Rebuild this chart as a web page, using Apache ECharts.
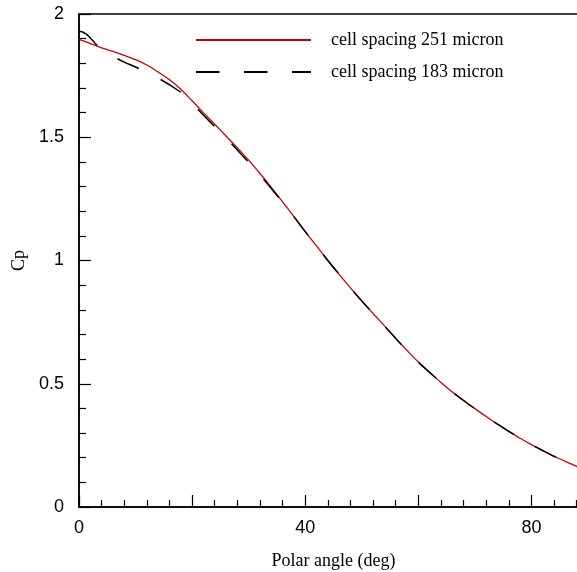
<!DOCTYPE html>
<html>
<head>
<meta charset="utf-8">
<script src="https://cdn.jsdelivr.net/npm/echarts@6/dist/echarts.min.js"></script>
<style>
html,body{margin:0;padding:0;background:#fff;}
#chart{width:577px;height:572px;}
</style>
</head>
<body>
<div id="chart"></div>
<script>
// Series names
const seriesNames = ['cell spacing 251 micron', 'cell spacing 183 micron'];

// Polar angle (deg) samples for the 251 micron curve
const angle251 = [0,1,2,3,4,6,8,10,12,14,16,18,20,22,24,26,28,30,32,34,36,38,40,42,44,46,48,50,52,54,56,58,60,62,64,66,68,70,72,74,76,78,80,82,84,86,88,90];
const cp251 = [1.897,1.889,1.880,1.872,1.863,1.848,1.832,1.815,1.793,1.765,1.733,1.695,1.648,1.600,1.553,1.505,1.457,1.407,1.353,1.297,1.238,1.178,1.117,1.059,1.000,0.944,0.889,0.836,0.785,0.735,0.684,0.635,0.588,0.546,0.505,0.467,0.432,0.399,0.367,0.336,0.307,0.279,0.253,0.229,0.206,0.185,0.165,0.146];

// Polar angle (deg) samples for the 183 micron curve
const angle183 = [0,0.5,1,1.5,2,2.5,3,3.5,4,6,8,10,12,14,16,18,20,22,24,26,28,30,32,34,36,38,40,42,44,46,48,50,52,54,56,58,60,62,64,66,68,70,72,74,76,78,80,82,84,86,88,90];
const cp183 = [1.930,1.928,1.922,1.914,1.903,1.890,1.877,1.866,1.858,1.828,1.805,1.785,1.764,1.740,1.713,1.682,1.638,1.590,1.543,1.497,1.448,1.398,1.346,1.292,1.236,1.178,1.117,1.059,1.000,0.944,0.889,0.836,0.785,0.735,0.684,0.635,0.588,0.546,0.505,0.467,0.432,0.399,0.367,0.336,0.307,0.279,0.253,0.229,0.206,0.185,0.165,0.146];

// Axis ticks
const xMin = 0, xMax = 90, xStep = 20, xLabelEvery = 40;
const yMin = 0, yMax = 2, yStep = 0.5;

const toPairs = (xs, ys) => xs.map((x, i) => [x, ys[i]]);

const chart = echarts.init(document.getElementById('chart'), null, {renderer: 'canvas'});
const axisFont = 'Liberation Sans, Arial, Helvetica, sans-serif';
const serifFont = 'Liberation Serif, Times New Roman, serif';

chart.setOption({
  animation: false,
  backgroundColor: '#fff',
  grid: {left: 79, top: 14, right: -11, bottom: 65, show: true, borderColor: '#000', borderWidth: 1.5,
    containLabel: false, outerBoundsMode: 'none'},
  legend: {
    orient: 'vertical', left: 195, top: 30, padding: 0,
    itemWidth: 115, itemHeight: 20, itemGap: 12,
    itemStyle: {opacity: 0},
    textStyle: {fontFamily: serifFont, fontSize: 18, color: '#000', padding: [0,0,0,15], lineHeight: 20},
    data: seriesNames
  },
  xAxis: {
    type: 'value', min: xMin, max: xMax, interval: xStep,
    name: 'Polar angle (deg)', nameLocation: 'middle', nameGap: 45,
    nameTextStyle: {fontFamily: serifFont, fontSize: 18, color: '#000'},
    axisLine: {show: true, lineStyle: {color: '#000', width: 1.5}},
    axisTick: {show: true, inside: true, length: 12, lineStyle: {color: '#000', width: 1.2}},
    minorTick: {show: true, splitNumber: 5, length: 7, lineStyle: {color: '#000', width: 1.2}},
    splitLine: {show: false},
    axisLabel: {fontFamily: axisFont, fontSize: 18, color: '#000', margin: 12,
      formatter: v => (v % xLabelEvery === 0 ? String(v) : '')}
  },
  yAxis: {
    type: 'value', min: yMin, max: yMax, interval: yStep,
    name: 'Cp', nameLocation: 'middle', nameGap: 50,
    nameTextStyle: {fontFamily: serifFont, fontSize: 18, color: '#000'},
    axisLine: {show: true, lineStyle: {color: '#000', width: 1.5}},
    axisTick: {show: true, inside: true, length: 12, lineStyle: {color: '#000', width: 1.2}},
    minorTick: {show: true, splitNumber: 5, length: 7, lineStyle: {color: '#000', width: 1.2}},
    splitLine: {show: false},
    axisLabel: {fontFamily: axisFont, fontSize: 18, color: '#000', margin: 15,
      formatter: v => String(v)}
  },
  series: [
    {
      name: seriesNames[0], type: 'line', data: toPairs(angle251, cp251),
      symbol: 'none', smooth: 0.3, color: '#cc0000',
      lineStyle: {color: '#cc0000', width: 1.3}
    },
    {
      name: seriesNames[1], type: 'line', data: toPairs(angle183, cp183),
      symbol: 'none', smooth: 0.3, color: '#000',
      lineStyle: {color: '#000', width: 1.5, type: [23.5, 24.5]}
    }
  ]
});
</script>
</body>
</html>
